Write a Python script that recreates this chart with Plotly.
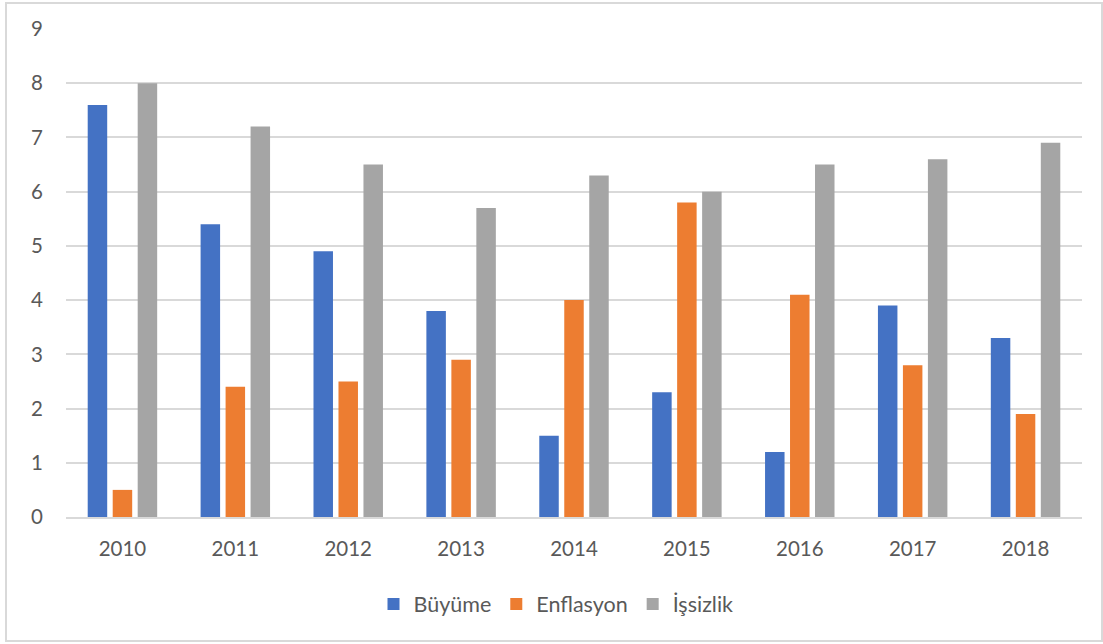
import plotly.graph_objects as go

years = ["2010", "2011", "2012", "2013", "2014", "2015", "2016", "2017", "2018"]
buyume = [7.6, 5.4, 4.9, 3.8, 1.5, 2.3, 1.2, 3.9, 3.3]
enflasyon = [0.5, 2.4, 2.5, 2.9, 4.0, 5.8, 4.1, 2.8, 1.9]
issizlik = [8.0, 7.2, 6.5, 5.7, 6.3, 6.0, 6.5, 6.6, 6.9]
series_names = ["Büyüme", "Enflasyon", "İşsizlik"]
y_ticks = [0, 1, 2, 3, 4, 5, 6, 7, 8, 9]

colors = ["#4472C4", "#ED7D31", "#A5A5A5"]
font_family = "Lato, 'Open Sans', sans-serif"
text_color = "#595959"

W, H = 1103, 644
ml, mr, mt, mb = 66, 21, 29, 127

fig = go.Figure()
for name, vals, col in zip(series_names, [buyume, enflasyon, issizlik], colors):
    fig.add_trace(go.Bar(x=years, y=vals, name=name, marker=dict(color=col, line=dict(width=0))))

pw = W - ml - mr
ph = H - mt - mb

fig.update_layout(
    width=W, height=H,
    margin=dict(l=ml, r=mr, t=mt, b=mb),
    paper_bgcolor="white", plot_bgcolor="white",
    barmode="group", bargap=0.336, bargroupgap=0.22,
    font=dict(family=font_family, size=20, color=text_color),
    xaxis=dict(showgrid=False, showline=True, linecolor="#D9D9D9", linewidth=1.5,
               ticks="", tickfont=dict(size=20.5, color=text_color), ticklabelstandoff=13),
    yaxis=dict(range=[0, 9], tickvals=y_ticks, showgrid=True, gridcolor="#D9D9D9",
               gridwidth=1.5, zeroline=False, showline=False, ticks="",
               tickfont=dict(size=20.5, color=text_color), ticklabelstandoff=22),
    legend=dict(orientation="h", x=(556 - ml) / pw, xanchor="center",
                y=-(604 - (mt + ph)) / ph, yanchor="middle",
                font=dict(size=21.5, color=text_color), itemwidth=30,
                traceorder="normal"),
    shapes=[dict(type="rect", xref="paper", yref="paper",
                 x0=(6 - ml) / pw, x1=(1102 - ml) / pw,
                 y0=-(641 - mt - ph) / ph, y1=1 + (mt - 3) / ph,
                 line=dict(color="#D9D9D9", width=2), fillcolor="rgba(0,0,0,0)", layer="below")],
)

fig.write_html("out.html")
